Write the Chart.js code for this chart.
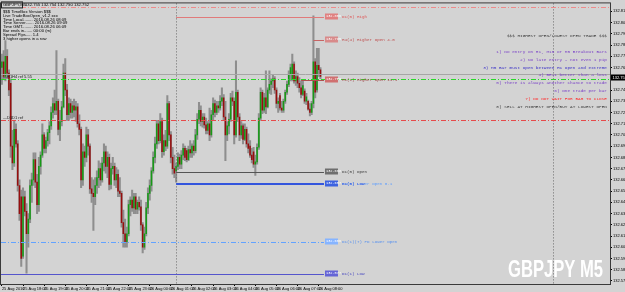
<!DOCTYPE html>
<html>
<head>
<meta charset="utf-8">
<script src="https://cdn.jsdelivr.net/npm/chart.js@4.4.1/dist/chart.umd.min.js"></script>
<style>
  html, body { margin: 0; padding: 0; background: #d3d3d3; }
  #wrap { width: 625px; height: 292px; }
</style>
</head>
<body>
<div id="wrap"><canvas id="chart" width="625" height="292"></canvas></div>
<script>
// GBPJPY M5 bars, values in points: price = 132 + pts / 1000  -> [open, high, low, close]
const candlesPts = [
  [760,772,745,765],[765,775,750,752],[752,784,748,770],[770,776,750,755],[755,758,735,740],
  [746,750,680,690],[690,704,669,675],[675,713,672,705],[705,710,689,692],[692,695,650,655],
  [655,660,624,630],[645,651,583,590],[592,653,590,645],[645,650,628,632],[632,639,577,612],
  [612,630,600,625],[625,660,622,655],[655,666,640,660],[660,684,655,678],[678,684,653,658],
  [658,665,630,638],[638,680,632,672],[672,685,665,682],[682,710,680,700],[700,702,684,688],
  [688,698,684,695],[695,705,690,702],[702,712,692,708],[708,725,705,720],[720,733,715,728],
  [728,740,718,722],[722,775,718,730],[730,732,700,705],[705,722,695,712],[712,730,708,725],
  [725,763,724,755],[755,768,735,740],[740,745,713,718],[718,733,713,728],[728,732,715,720],
  [720,730,715,726],[726,732,716,722],[722,730,712,725],[725,728,707,710],[710,718,700,705],
  [705,707,653,660],[660,692,655,685],[685,690,672,680],[680,707,676,700],[700,705,682,690],
  [690,692,648,652],[652,662,640,648],[648,660,615,645],[645,662,638,655],[655,668,648,662],
  [662,677,653,670],[670,675,655,660],[660,680,658,675],[675,692,668,685],[685,690,666,672],
  [672,685,662,680],[680,683,651,656],[656,675,652,670],[670,680,665,672],[672,675,655,660],
  [660,671,653,665],[665,669,645,650],[650,662,645,648],[648,650,618,622],[622,633,600,612],
  [612,625,600,605],[605,618,600,612],[612,642,610,638],[638,645,628,642],[642,651,632,635],
  [635,648,630,645],[645,648,630,634],[634,642,630,640],[640,645,633,636],[636,642,615,620],
  [620,622,595,600],[600,618,598,612],[612,640,610,635],[635,653,630,648],[648,660,642,655],
  [655,671,650,668],[668,685,666,680],[680,698,675,692],[692,713,688,710],[710,713,692,695],
  [695,719,693,712],[712,715,680,685],[685,700,682,695],[695,704,686,690],[690,735,688,728],
  [728,730,695,700],[700,703,675,680],[680,689,665,670],[670,682,662,666],[668,675,658,672],
  [672,684,669,680],[680,683,670,674],[674,686,670,682],[682,692,678,688],[688,690,677,680],
  [686,688,676,678],[678,690,677,687],[687,695,680,684],[684,692,680,690],[690,695,682,686],
  [686,705,684,700],[700,719,696,714],[714,729,710,722],[722,726,708,712],[712,719,707,716],
  [716,719,706,709],[709,715,701,704],[704,712,701,710],[710,724,695,700],[700,722,698,718],
  [718,733,713,728],[728,731,716,720],[720,730,718,726],[726,730,720,724],[724,735,722,730],
  [730,742,726,733],[733,736,713,716],[716,730,677,700],[700,712,695,708],[708,719,701,714],
  [714,737,712,733],[733,739,726,730],[730,733,692,700],[700,766,698,738],[738,740,712,716],
  [716,719,695,700],[700,712,697,708],[708,710,692,696],[696,710,695,705],[705,707,689,692],
  [692,701,684,688],[690,695,680,682],[682,688,675,678],[685,689,671,674],[674,682,664,676],
  [676,692,674,689],[689,719,687,715],[715,742,713,738],[738,740,719,722],[722,737,720,733],
  [733,757,719,725],[725,742,724,740],[740,757,737,745],[745,750,736,748],[748,754,742,750],
  [750,752,737,740],[740,742,724,728],[728,733,720,730],[735,737,722,724],[724,730,720,722],
  [722,732,720,730],[730,740,728,738],[738,748,736,745],[745,757,743,754],[754,763,748,760],
  [750,772,748,763],[763,765,746,748],[748,757,744,752],[752,755,742,746],[746,751,738,742],
  [742,748,733,736],[736,748,735,744],[739,741,728,730],[730,737,727,734],[730,731,722,723],
  [723,728,717,720],[720,730,718,728],[728,806,724,765],[765,768,733,738],[740,777,738,762],
  [762,777,752,758],[758,760,750,752]
];

// time axis: one label every 12 bars (1 hour of M5)
const timeLabels = ['25 Aug 2016', '25 Aug 18:00', '25 Aug 19:00', '25 Aug 20:00', '25 Aug 21:00',
  '25 Aug 22:00', '25 Aug 23:00', '26 Aug 00:00', '26 Aug 01:00', '26 Aug 02:00', '26 Aug 03:00',
  '26 Aug 04:00', '26 Aug 05:00', '26 Aug 06:00', '26 Aug 07:00', '26 Aug 08:00'];
const barsPerLabel = 12;
const totalSlots = 346;          // bars + chart shift space
const separatorBars = [99, 313]; // dotted vertical lines

const priceTicks = [132.810, 132.800, 132.790, 132.780, 132.770, 132.760, 132.750, 132.740, 132.730,
  132.720, 132.710, 132.700, 132.690, 132.680, 132.670, 132.660, 132.650, 132.640, 132.630, 132.620,
  132.610, 132.600, 132.590, 132.580, 132.570];
const priceMin = 132.5673;
const priceMax = 132.8171;
const lastPrice = 132.752;
const quoteLine = ['132.755', '132.754', '132.750', '132.752'];

// levels drawn by the TradeBox indicator
const levelNames  = ['D1(0) High', 'H4(4) Higher Open 4.0', 'H1(1) Higher Open 11.1', 'D1(0) Open',
  'H4(0) Lower Open 0.1', 'D1(0) Low', 'D1(1)(7) PD Lower Open', 'D1(1) Low'];
const levelPrices = [132.806, 132.785, 132.750, 132.668, 132.657, 132.657, 132.606, 132.577];
const levelFrom   = [99, 177, 170, 99, 99, 99, 0, 0];
const levelTo     = 183;
const levelStyles = [
  { line: '#e07a7a', box: '#e08080', text: '#e05555', dash: [], w: 1 },
  { line: '#c86464', box: '#d88a8a', text: '#c05050', dash: [], w: 1 },
  { line: '#b05050', box: '#d07070', text: '#a04040', dash: [], w: 1 },
  { line: '#555555', box: '#6e6e6e', text: '#3a3a3a', dash: [], w: 1 },
  { line: null,      box: null,      text: '#5a9cff', dash: [], w: 1 },
  { line: '#3355dd', box: '#3c62e0', text: '#2a4ee0', dash: [], w: 2 },
  { line: '#62a2ff', box: '#86b4ff', text: '#5590f0', dash: [5, 2, 1, 2], w: 1 },
  { line: '#5555cc', box: '#6464d6', text: '#4444c0', dash: [], w: 1 }
];

// full width reference lines
const refPrices = [132.814, 132.7545, 132.750, 132.713];
const refNames  = ['', '', '\u2014H1H4 ref 5.55', '\u2014D1D1 ref'];
const refStyles = [
  { color: '#ee8a8a', dash: [5, 2, 1, 2] },
  { color: '#a6a6a6', dash: [] },
  { color: '#2ad82a', dash: [5, 2, 1, 2] },
  { color: '#e64a4a', dash: [5, 2, 1, 2] }
];

const infoLines = ['$$$ TimeBox Version $$$', 'Live TradeBoxOpen_v1.2 xxx', 'Time Local........ 2016.08.26 08:09',
  'Time Server....... 2016.08.26 09:09', 'Time GMT......... 2016.08.26 06:09', 'Bar ends in....... 00:00 (m)',
  'Spread Pips..... 1.4', '3 higher opens in a row'];

const rules = ['$$$ HIGHEST OPEN/LOWEST OPEN TRADE $$$', '', '1) No entry on H1, M15 or M5 Breakout Bars',
  '2) No late entry - not even 1 pip', '3) M5 Bar must open between H1 open and extreme',
  '4) BE+1 better than a loss', '5) There is always another chance to trade', '6) One trade per bar',
  '7) DO NOT WAIT FOR BAR TO CLOSE', '8) SELL AT HIGHEST OPEN/BUY AT LOWEST OPEN'];
const ruleColors = ['#404040', '', '#7a40c8', '#7a40c8', '#3a30c8', '#7a40c8', '#7a40c8', '#7a40c8', '#ff2a2a', '#404040'];

const NARROW = "'Liberation Sans Narrow', 'Liberation Sans', sans-serif";
const MONO = "'Liberation Mono', 'DejaVu Sans Mono', monospace";

const toPrice = v => 132 + v / 1000;
const slotLabels = Array.from({ length: totalSlots }, (_, i) =>
  i % barsPerLabel === 0 && timeLabels[i / barsPerLabel] ? timeLabels[i / barsPerLabel] : '');
const wicks = candlesPts.map(c => [toPrice(c[2]), toPrice(c[1])]);
const bodies = candlesPts.map(c => [toPrice(c[0]), toPrice(c[3])]);
const bodyColors = candlesPts.map(c => c[3] >= c[0] ? '#169a16' : '#960e0e');

function hLine(ctx, x0, x1, yv, color, dash, w) {
  const yy = Math.round(yv) + (w % 2 ? 0.5 : 0);
  ctx.beginPath();
  ctx.setLineDash(dash);
  ctx.strokeStyle = color;
  ctx.lineWidth = w;
  ctx.moveTo(x0, yy);
  ctx.lineTo(x1, yy);
  ctx.stroke();
}

// draw text squeezed to a given width (watermark font is condensed)
function fillFit(ctx, text, xRight, yBase, width) {
  const w = ctx.measureText(text).width;
  const k = Math.min(1, width / w);
  ctx.save();
  ctx.translate(xRight, yBase);
  ctx.scale(k, 1);
  ctx.textAlign = 'right';
  ctx.fillText(text, 0, 0);
  ctx.restore();
}

const bgPlugin = {
  id: 'bg',
  beforeDraw(chart) {
    const c = chart.ctx;
    c.save();
    c.fillStyle = '#d3d3d3';
    c.fillRect(0, 0, chart.width, chart.height);
    c.restore();
  }
};

const overlayPlugin = {
  id: 'tradebox',
  afterDatasetsDraw(chart) {
    const { ctx, chartArea: a, scales: { x, y } } = chart;
    ctx.save();

    // day separators
    separatorBars.forEach(b => {
      const xx = Math.round(x.getPixelForValue(b)) + 0.5;
      ctx.beginPath();
      ctx.setLineDash([1, 2]);
      ctx.strokeStyle = '#6a6a6a';
      ctx.lineWidth = 1;
      ctx.moveTo(xx, a.top);
      ctx.lineTo(xx, a.bottom);
      ctx.stroke();
    });

    // full width reference lines
    refPrices.forEach((p, i) => {
      const yy = y.getPixelForValue(p);
      hLine(ctx, a.left, a.right, yy, refStyles[i].color, refStyles[i].dash, 1);
      if (refNames[i]) {
        ctx.setLineDash([]);
        ctx.fillStyle = '#1a1a1a';
        ctx.font = '4px ' + NARROW;
        ctx.textBaseline = 'bottom';
        ctx.textAlign = 'left';
        ctx.fillText(refNames[i], a.left + 2, Math.round(yy));
      }
    });

    // indicator levels with price boxes
    const xEnd = x.getPixelForValue(levelTo);
    levelPrices.forEach((p, i) => {
      const s = levelStyles[i];
      const yy = Math.round(y.getPixelForValue(p)) + 0.5;
      const x0 = levelFrom[i] === 0 ? a.left : x.getPixelForValue(levelFrom[i]);
      if (s.line) hLine(ctx, x0, xEnd, yy, s.line, s.dash, s.w);
      ctx.setLineDash([]);
      if (s.box) {
        ctx.fillStyle = s.box;
        ctx.fillRect(xEnd + 1, yy - 3, 13, 6);
        ctx.fillStyle = '#ffffff';
        ctx.font = '3.6px ' + MONO;
        ctx.textBaseline = 'middle';
        ctx.textAlign = 'left';
        ctx.fillText(p.toFixed(3), xEnd + 2, yy);
      }
      ctx.fillStyle = s.text;
      ctx.font = '4.2px ' + MONO;
      ctx.textBaseline = 'middle';
      ctx.textAlign = 'left';
      ctx.fillText(levelNames[i], xEnd + 18, yy);
    });

    // trading rules block
    ctx.font = '4.4px ' + MONO;
    ctx.textAlign = 'right';
    ctx.textBaseline = 'middle';
    rules.forEach((t, i) => {
      if (!t) return;
      ctx.fillStyle = ruleColors[i];
      ctx.fillText(t, a.right - 3, 36 + i * 7.85);
    });

    // symbol watermark
    ctx.font = 'bold 23px ' + NARROW;
    ctx.fillStyle = '#ffffff';
    ctx.textBaseline = 'alphabetic';
    fillFit(ctx, 'GBPJPY M5', a.right - 7, a.bottom - 7, 95);

    // header and info panel
    ctx.textAlign = 'left';
    ctx.textBaseline = 'middle';
    ctx.font = '4.2px ' + NARROW;
    ctx.fillStyle = '#d3d3d3';
    ctx.fillRect(a.left, a.top - 2, 22, 7);
    ctx.strokeStyle = '#202020';
    ctx.lineWidth = 1;
    ctx.strokeRect(a.left + 0.5, a.top - 1.5, 21, 6);
    ctx.fillStyle = '#000000';
    ctx.fillText('GBPJPY,M5', a.left + 2, a.top + 1.5);
    ctx.fillText(quoteLine.join(' '), a.left + 24, a.top + 1.5);
    infoLines.forEach((t, i) => {
      ctx.fillText(t, a.left + 2, 11.7 + i * 3.85);
    });

    // frame
    ctx.setLineDash([]);
    ctx.strokeStyle = '#3a3a3a';
    ctx.strokeRect(a.left - 0.5, a.top - 0.5, a.right - a.left + 1, a.bottom - a.top + 1);

    // last price marker on the axis
    const yl = Math.round(y.getPixelForValue(lastPrice)) + 0.5;
    ctx.fillStyle = '#000000';
    ctx.fillRect(a.right + 1, yl - 3, 15, 6);
    ctx.fillStyle = '#ffffff';
    ctx.font = '4px ' + NARROW;
    ctx.textAlign = 'left';
    ctx.fillText(lastPrice.toFixed(3), a.right + 2.5, yl);

    ctx.restore();
  }
};

new Chart(document.getElementById('chart').getContext('2d'), {
  type: 'bar',
  data: {
    labels: slotLabels,
    datasets: [
      { data: wicks, backgroundColor: '#8e8e8e', barThickness: 1.4, grouped: false, order: 2 },
      { data: bodies, backgroundColor: bodyColors, barThickness: 0.9, grouped: false, minBarLength: 1, order: 1 }
    ]
  },
  options: {
    responsive: false,
    animation: false,
    events: [],
    layout: { padding: { left: 1, top: 2, right: 0, bottom: 0 } },
    plugins: { legend: { display: false }, tooltip: { enabled: false } },
    scales: {
      x: {
        offset: true,
        border: { display: false },
        grid: {
          offset: false, drawOnChartArea: false, tickLength: 2,
          color: c => slotLabels[c.index] ? '#000000' : 'rgba(0,0,0,0)'
        },
        ticks: {
          autoSkip: false, maxRotation: 0, minRotation: 0, align: 'start', padding: 0,
          font: { size: 4, family: NARROW }, color: '#000000',
          callback: (v, i) => slotLabels[i]
        },
        afterFit: s => { s.height = 8; }
      },
      y: {
        position: 'right',
        min: priceMin,
        max: priceMax,
        border: { display: false },
        grid: { drawOnChartArea: false, tickLength: 2, color: '#000000' },
        afterBuildTicks: s => { s.ticks = priceTicks.map(v => ({ value: v })); },
        ticks: {
          padding: 1, font: { size: 4, family: NARROW }, color: '#000000',
          callback: v => Number(v).toFixed(3)
        },
        afterFit: s => { s.width = 15; }
      }
    }
  },
  plugins: [bgPlugin, overlayPlugin]
});
</script>
</body>
</html>
